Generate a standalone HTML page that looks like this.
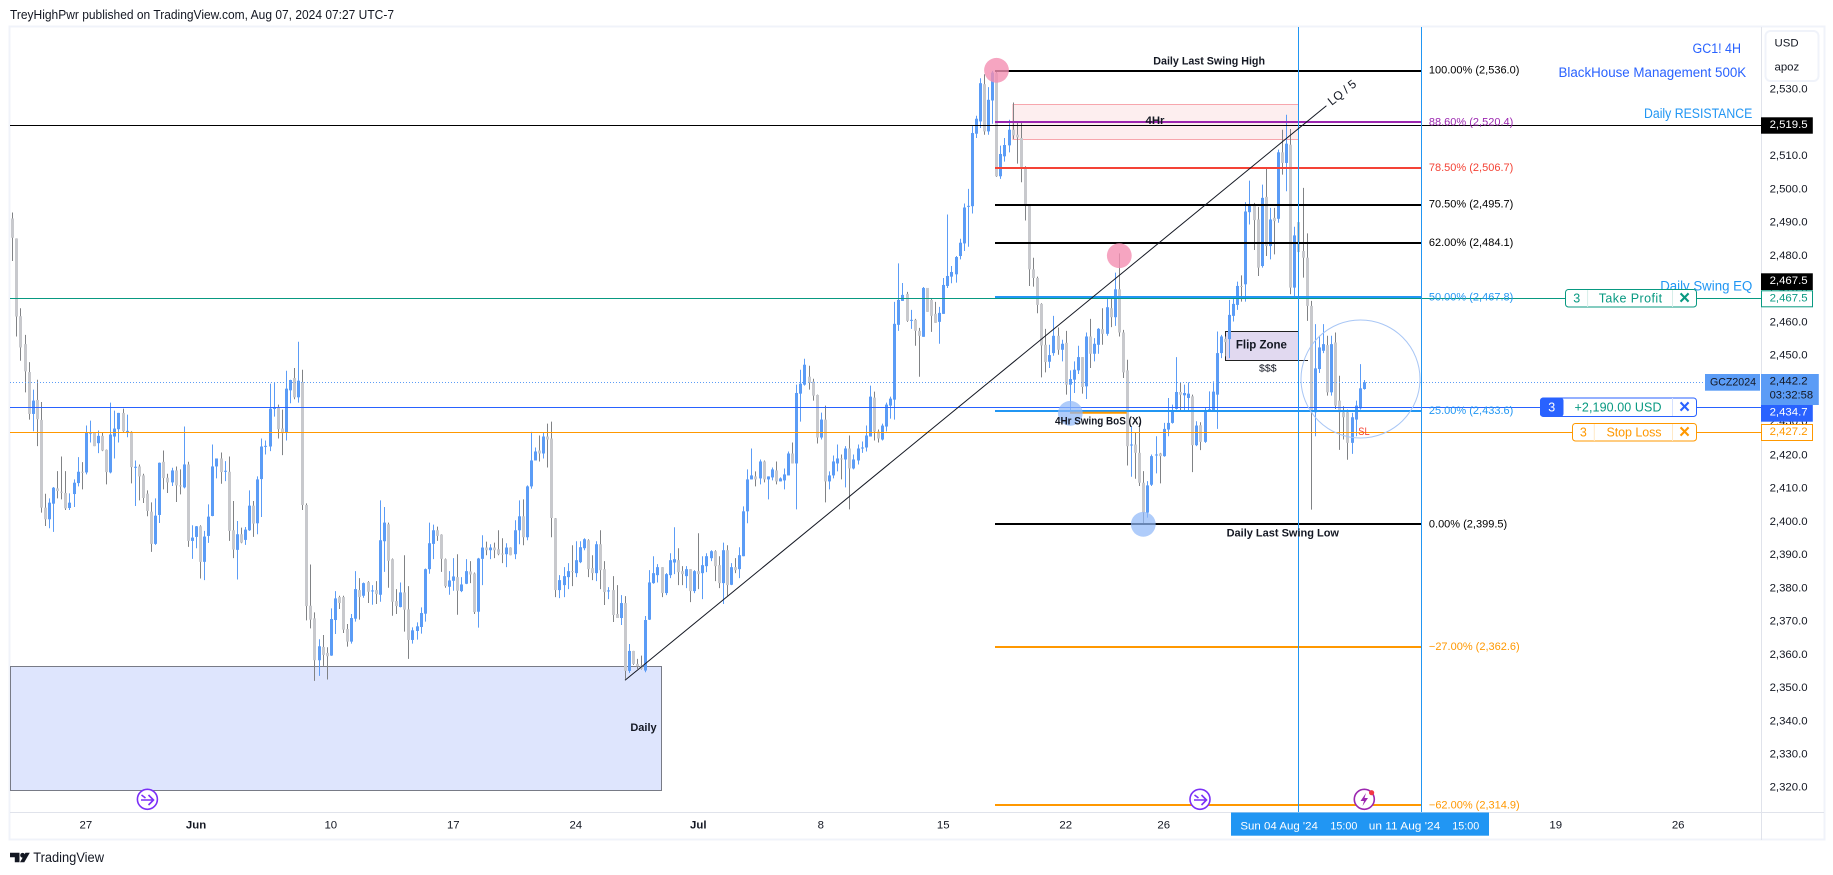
<!DOCTYPE html>
<html lang="en">
<head>
<meta charset="utf-8">
<title>GCZ2024 4H chart</title>
<style>
html,body{margin:0;padding:0;background:#fff;width:1833px;height:875px;overflow:hidden}
svg{display:block}
text{font-family:"Liberation Sans",sans-serif;font-size:11.4px;fill:#131722;dominant-baseline:central}
.b{font-weight:bold}
.c{text-anchor:middle}
</style>
</head>
<body>
<svg id="chart" xmlns="http://www.w3.org/2000/svg" width="1833" height="875" viewBox="0 0 1833 875">
  <text x="10" y="15" textLength="384" lengthAdjust="spacingAndGlyphs" style="font-size:12.5px">TreyHighPwr published on TradingView.com, Aug 07, 2024 07:27 UTC-7</text>
  <rect x="9.5" y="26.5" width="1815" height="813" fill="#fff" stroke="#f0f3fa" stroke-width="2"/>

  <rect x="10.5" y="666.5" width="651" height="124" fill="#dee5fd" stroke="#787b86" stroke-width="1"/>
  <rect x="1013" y="104.5" width="285.5" height="35" fill="#fdeeef" stroke="#f7a6ad" stroke-width="1"/>
  <rect x="1225.5" y="331.5" width="73" height="29" fill="#e1d9f0" stroke="#222" stroke-width="1"/>
  <line x1="1298" y1="360.5" x2="1308" y2="360.5" stroke="#222"/>

  <g id="candles"></g>

  <g fill="none">
    <line x1="10" y1="125.5" x2="1761" y2="125.5" stroke="#000" stroke-width="1"/>
    <line x1="10" y1="298.5" x2="1761" y2="298.5" stroke="#089981" stroke-width="1"/>
    <line x1="10" y1="382.5" x2="1705" y2="382.5" stroke="#5b9cf6" stroke-width="1" stroke-dasharray="1 2"/>
    <line x1="10" y1="407.5" x2="1761" y2="407.5" stroke="#2962ff" stroke-width="1"/>
    <line x1="10" y1="432.5" x2="1761" y2="432.5" stroke="#ff9800" stroke-width="1"/>
  </g>

  <g id="fib"></g>

  <line x1="1298.5" y1="27" x2="1298.5" y2="812" stroke="#2196f3" stroke-width="1"/>
  <line x1="1421.5" y1="27" x2="1421.5" y2="812" stroke="#2196f3" stroke-width="1"/>
  <line x1="625" y1="680.3" x2="1326.4" y2="105.7" stroke="#131722" stroke-width="1"/>
  <text class="c" transform="translate(1342 92.5) rotate(-38.7)" style="font-size:12px">LQ / 5</text>

  <line x1="1070" y1="412.7" x2="1126.7" y2="412.7" stroke="#ff9800" stroke-width="2"/>
  <circle cx="996.5" cy="70.3" r="12.4" fill="#f48fb1" fill-opacity="0.8"/>
  <circle cx="1119.3" cy="255.7" r="12.4" fill="#f48fb1" fill-opacity="0.8"/>
  <circle cx="1070.3" cy="413.3" r="12.4" fill="#90b8f8" fill-opacity="0.72"/>
  <circle cx="1143.3" cy="524.3" r="12.4" fill="#90b8f8" fill-opacity="0.72"/>
  <ellipse cx="1360.5" cy="379" rx="59.5" ry="59" fill="none" stroke="#a8c6f5" stroke-width="1"/>

  <text x="1153.3" y="61.3" textLength="111.7" lengthAdjust="spacingAndGlyphs" class="b" style="font-size:11px">Daily Last Swing High</text>
  <text x="1155" y="121" class="b c">4Hr</text>
  <text x="1055" y="421.7" textLength="86.7" lengthAdjust="spacingAndGlyphs" class="b" style="font-size:11px">4Hr Swing BoS (X)</text>
  <text x="1226.6" y="533.3" textLength="112.4" lengthAdjust="spacingAndGlyphs" class="b" style="font-size:11px">Daily Last Swing Low</text>
  <text x="643.5" y="728" class="b c" style="font-size:11px">Daily</text>
  <text x="1261.4" y="345.5" class="b c" style="font-size:11.5px">Flip Zone</text>
  <text x="1267.8" y="368.7" class="c" style="font-size:10.5px">$$$</text>
  <text x="1358.3" y="432" textLength="11.3" lengthAdjust="spacingAndGlyphs" style="fill:#f44336;font-size:11px">SL</text>

  <text x="1692.5" y="48.3" textLength="48.5" lengthAdjust="spacingAndGlyphs" style="fill:#2962ff;font-size:13.5px">GC1! 4H</text>
  <text x="1558.5" y="72.3" textLength="187.7" lengthAdjust="spacingAndGlyphs" style="fill:#2962ff;font-size:13.5px">BlackHouse Management 500K</text>
  <text x="1644" y="113.3" textLength="108.3" lengthAdjust="spacingAndGlyphs" style="fill:#2196f3;font-size:13.5px">Daily RESISTANCE</text>
  <text x="1660.2" y="286" textLength="92.1" lengthAdjust="spacingAndGlyphs" style="fill:#2196f3;font-size:13.5px">Daily Swing EQ</text>

  <g fill="none" stroke="#7b2ff7" stroke-width="1.6">
    <circle cx="147.4" cy="799.3" r="10" fill="#fff"/>
    <path d="M141 800h12M148.500 795l5 5-5 5M141.500 795l4 3"/>
  </g>
  <g fill="none" stroke="#7b2ff7" stroke-width="1.6">
    <circle cx="1200" cy="799.3" r="10" fill="#fff"/>
    <path d="M1194 800h12M1201.500 795l5 5-5 5M1194.500 795l4 3"/>
  </g>
  <g>
    <circle cx="1364.300" cy="799.3" r="10" fill="#fff" stroke="#9c27b0" stroke-width="1.6"/>
    <polygon points="1366,793 1360.500,801 1364,801 1362.500,806 1368,798 1364.500,798" fill="#9c27b0"/>
    <circle cx="1371.6" cy="792.7" r="2.6" fill="#f23645"/>
  </g>

  <line x1="10" y1="812.5" x2="1824" y2="812.5" stroke="#e0e3eb" stroke-width="1"/>
  <g id="xticks"></g>
  <rect x="1231" y="812.500" width="258" height="23.2" fill="#2196f3"/>
  <text x="1240.4" y="826.7" textLength="77.5" lengthAdjust="spacingAndGlyphs" style="fill:#fff">Sun 04 Aug '24</text>
  <text x="1330.4" y="826.7" textLength="27" lengthAdjust="spacingAndGlyphs" style="fill:#fff">15:00</text>
  <text x="1368.8" y="826.7" textLength="71.4" lengthAdjust="spacingAndGlyphs" style="fill:#fff">un 11 Aug '24</text>
  <text x="1452.3" y="826.7" textLength="27" lengthAdjust="spacingAndGlyphs" style="fill:#fff">15:00</text>

  <line x1="1761.500" y1="27" x2="1761.500" y2="840" stroke="#e0e3eb" stroke-width="1"/>
  <g id="yticks"></g>

  <g>
    <rect x="1765.500" y="31" width="53" height="50" rx="5" fill="#fff" stroke="#f0f3fa" stroke-width="2"/>
    <text x="1774.5" y="43.7">USD</text>
    <text x="1774.5" y="67.7">apoz</text>
  </g>

  <g>
    <rect x="1761" y="117.3" width="51.8" height="16.4" fill="#000"/>
    <text x="1769.600" y="125" style="fill:#fff">2,519.5</text>
  </g>
  <g>
    <rect x="1761" y="273.3" width="51.8" height="16.7" fill="#000"/>
    <text x="1769.600" y="281" style="fill:#fff">2,467.5</text>
  </g>
  <g>
    <rect x="1761.500" y="290.8" width="51" height="16" fill="#fff" stroke="#089981"/>
    <text x="1769.600" y="298.300" style="fill:#089981">2,467.5</text>
  </g>
  <g>
    <rect x="1761" y="405" width="51.8" height="16.7" fill="#2962ff"/>
    <text x="1769.600" y="412.300" style="fill:#fff">2,434.7</text>
  </g>
  <g>
    <rect x="1761" y="374" width="57.800" height="31" fill="#5b9cf6"/>
    <text x="1769.600" y="381.7">2,442.2</text>
    <text x="1769.600" y="395.7" textLength="43.500" lengthAdjust="spacingAndGlyphs">03:32:58</text>
  </g>
  <g>
    <rect x="1761.500" y="424.500" width="51" height="16" fill="#fff" stroke="#ff9800"/>
    <text x="1769.600" y="432" style="fill:#ff9800">2,427.2</text>
  </g>
  <g>
    <rect x="1705" y="374" width="55" height="16.7" fill="#5b9cf6"/>
    <text x="1710" y="382.7" textLength="46" lengthAdjust="spacingAndGlyphs">GCZ2024</text>
  </g>

  <g>
    <rect x="1565.500" y="289.500" width="131" height="17.500" rx="3" fill="#fff" stroke="#089981"/>
    <line x1="1587.600" y1="290" x2="1587.600" y2="307" stroke="#d6eee9"/>
    <line x1="1672.500" y1="290" x2="1672.500" y2="307" stroke="#d6eee9"/>
    <text x="1576.700" y="298.300" class="c" style="fill:#089981;font-size:12.5px">3</text>
    <text x="1598.700" y="298.300" textLength="63.400" lengthAdjust="spacing" style="fill:#089981;font-size:12.5px">Take Profit</text>
    <text x="1684.500" y="298.300" class="c b" style="fill:#089981;font-size:19px">×</text>
  </g>
  <g>
    <rect x="1540.500" y="398" width="156" height="18.500" rx="3" fill="#fff" stroke="#2962ff"/>
    <rect x="1540" y="397.600" width="23.500" height="19.200" rx="3" fill="#2962ff"/>
    <line x1="1672.500" y1="398" x2="1672.500" y2="416" stroke="#d4e0ff"/>
    <text x="1551.700" y="407.300" class="c" style="fill:#fff;font-size:12.5px">3</text>
    <text x="1574.500" y="407.300" textLength="87" lengthAdjust="spacing" style="fill:#089981;font-size:12.5px">+2,190.00 USD</text>
    <text x="1684.500" y="407.300" class="c b" style="fill:#2962ff;font-size:19px">×</text>
  </g>
  <g>
    <rect x="1572.500" y="423.500" width="124" height="17.500" rx="3" fill="#fff" stroke="#ff9800"/>
    <line x1="1594.300" y1="424" x2="1594.300" y2="441" stroke="#ffe9c7"/>
    <line x1="1672.500" y1="424" x2="1672.500" y2="441" stroke="#ffe9c7"/>
    <text x="1583.300" y="432.300" class="c" style="fill:#ff9800;font-size:12.5px">3</text>
    <text x="1606.500" y="432.300" textLength="55" lengthAdjust="spacing" style="fill:#ff9800;font-size:12.5px">Stop Loss</text>
    <text x="1684.500" y="432.300" class="c b" style="fill:#ff9800;font-size:19px">×</text>
  </g>

  <g>
    <path d="M10 852.700h9.500v9.600h-4.700v-5h-4.800z" fill="#131722"/>
    <circle cx="22.600" cy="855.300" r="2.400" fill="#131722"/>
    <polygon points="20,862.300 25.500,852.700 29.800,852.700 24.300,862.300" fill="#131722"/>
    <text x="33.200" y="857.700" textLength="70.800" lengthAdjust="spacingAndGlyphs" style="font-size:13.500px">TradingView</text>
  </g>
</svg>
<script>
const opens = [
2491.5,2485.5,2462.1,2453.7,2445.3,2432.7,2436.9,2430.9,2404.5,2401,
2405.7,2410.3,2409.3,2408.9,2404.4,2408.6,2411.9,2415.3,2415.1,2426.8,
2427.1,2423.9,2426.1,2421.9,2415.1,2425.9,2428.1,2433,2427.3,2427.3,
2416.6,2416.9,2414.2,2408.7,2403.3,2393.6,2402.3,2418.3,2413.5,2412.1,
2415.7,2411.2,2410.6,2417.5,2394.5,2395.7,2398.9,2388.2,2396,2402,
2416.9,2419.3,2415.4,2415.3,2397.7,2391.8,2396.5,2394.8,2397.7,2405.1,
2399.8,2413.1,2422.9,2422.9,2434.3,2434.8,2428.3,2427,2439.8,2443.5,
2437.7,2442.3,2405.3,2375,2371.2,2358.6,2362.6,2360.8,2360,2370.7,
2377.6,2377.6,2368,2364.2,2371.1,2379.7,2378,2382.1,2379.4,2379.7,
2378.3,2394.4,2399.5,2389,2376.4,2374.6,2379,2373.9,2364.7,2367.4,
2368.6,2372.6,2386,2393.6,2397.7,2396.4,2389,2380.7,2382.5,2383.6,
2379.4,2381.6,2385.3,2384.7,2373.2,2389.1,2392.5,2391.7,2392.5,2392,
2390.7,2390.5,2392.5,2390.5,2397.7,2401.9,2395.6,2410.9,2418.7,2421.7,
2420.8,2425.9,2425.3,2401.3,2379.7,2381.2,2383.6,2385.4,2384.8,2388.1,
2392.3,2394.7,2386.3,2384.8,2393.5,2386,2379.4,2379.7,2372.5,2371.3,
2375.8,2355.4,2361.4,2357.5,2357,2355.5,2370.8,2381.8,2384.2,2386.6,
2378.8,2384.2,2388,2388.7,2385.4,2383.9,2386,2379.4,2385.4,2384.8,
2386.9,2389.3,2391.4,2387.2,2381.8,2391.7,2381.3,2386.6,2386,2389.9,
2403.4,2413,2413.9,2413.3,2418.4,2413,2413.6,2415.7,2412.4,2412.7,
2414.2,2420.8,2417.8,2438.8,2441.5,2443.9,2442.4,2438.4,2425.6,2431,
2412.4,2414.2,2417.8,2419.3,2419,2422.3,2416.3,2418.7,2422.3,2422.6,
2425.9,2437.6,2427.4,2425,2428.9,2435.2,2437,2459.5,2466.7,2468.8,
2460.7,2461,2457.7,2455.9,2470.6,2467,2462.8,2460.4,2462.8,2471.2,
2474,2474.7,2480.2,2484,2495,2495.2,2517,2520.7,2531.9,2517.7,
2527,2535.2,2504.2,2510.2,2513.5,2518.2,2516.7,2515.7,2506.7,2495.5,
2476.2,2473.6,2465.8,2453.5,2448.4,2451,2456.2,2452,2454.1,2441.5,
2443,2445.8,2449.8,2441,2456,2450.8,2453.5,2458.2,2456.8,2464.5,
2461.8,2470.2,2457.2,2445.8,2423.3,2423.5,2421,2412,2403,2411.4,
2420.2,2420.8,2420,2428,2430,2434.2,2439.3,2438.3,2437.5,2438,
2423.3,2429.3,2424.3,2434,2433.8,2438.5,2451,2455.3,2455.2,2462.2,
2465.5,2471.2,2471.7,2493.4,2495.4,2491.2,2477.2,2498,2483.2,2491.7,
2491.4,2511.4,2508.2,2513.7,2470.7,2490.4,2481.7,2479.7,2465.2,2433.2,
2446.2,2451.7,2453.4,2439.2,2454.2,2436.7,2433.2,2433.2,2424,2431,2434.4,2440.2];
const highs = [
2493.3,2485.5,2464.5,2456.5,2448.3,2440,2443,2436.3,2408.7,2407.3,
2410.7,2415.5,2419.9,2415.5,2408.8,2413,2419.7,2418.2,2429.2,2430.7,
2427.1,2427.7,2427.1,2422,2436.1,2433.7,2433,2434.3,2432.5,2427.5,
2418.7,2417.5,2414.7,2409.7,2406.1,2407.3,2418.1,2421.7,2414.7,2416.5,
2416.9,2416,2428.9,2418.3,2399.2,2399,2399.2,2397.5,2405.5,2423.5,
2419.3,2421.1,2418.5,2419.9,2406.5,2400.5,2398.5,2398.7,2409.7,2406.5,
2413.9,2425.3,2424.7,2441.8,2442.3,2435.5,2434,2445.7,2443,2446.5,
2454.4,2446,2405.8,2387.4,2373,2364.9,2366.2,2362.5,2374.2,2379.4,
2378,2378,2369.5,2372.5,2385.4,2383.3,2382,2382.4,2381.2,2382.4,
2406.7,2404.7,2400,2389.2,2380,2382,2390.2,2380.9,2368.5,2370,
2374.5,2386.2,2400,2399.4,2398.8,2396.5,2389.2,2385.4,2389.3,2390.5,
2383.6,2389,2388.4,2385,2389.4,2396.2,2394.3,2393.5,2394,2397.7,
2395.3,2393.8,2392.6,2400.7,2406.7,2407,2411.2,2427.3,2422.6,2426.2,
2427.2,2429.8,2430.4,2401.4,2384.2,2386.6,2387.8,2393.2,2394.4,2394.4,
2395.3,2395,2390.2,2394.4,2397.7,2388.4,2380.6,2383.9,2381.2,2378.2,
2377.9,2363.5,2361.4,2359,2360,2371.9,2385.7,2389.9,2387.5,2386.6,
2384.8,2390.8,2398.6,2392.3,2386.9,2386.9,2386,2385.7,2396.8,2389.9,
2390.8,2391.7,2391.7,2389.9,2394,2393.2,2387.8,2389.3,2392.6,2404.9,
2416,2422.3,2415.4,2419,2418.7,2413.9,2416.6,2418.4,2413.6,2416.3,
2421.4,2424.1,2441.5,2446,2449.3,2447.2,2443.3,2438.5,2433.1,2435.2,
2415.4,2420.2,2423.5,2420.5,2423,2426.2,2420.5,2423.5,2424.4,2429.2,
2441.2,2439.4,2428,2429.8,2436.1,2437.9,2466.4,2478,2472.1,2469.4,
2464,2461.3,2458.6,2470.9,2470.6,2467.3,2466.4,2464.9,2473.6,2492.7,
2477.2,2480.2,2485.4,2496,2500.4,2519.4,2522.4,2533.7,2534.9,2531,
2535.9,2536,2513.4,2515.7,2521.2,2526.4,2520.4,2520.7,2507.2,2495.5,
2479.7,2474,2466,2458.3,2453.5,2462.2,2458.7,2455,2457.7,2445.8,
2448.5,2453.2,2449.8,2457.2,2461.3,2455.5,2458.5,2464.5,2467.5,2468,
2475.2,2481,2458,2449,2429,2427.2,2430,2415.5,2412.5,2420.5,
2426,2421,2430,2437.5,2435.5,2449.8,2442.2,2441.5,2442.2,2438.5,
2430.5,2430.2,2434.5,2439.5,2442.5,2457.5,2456.5,2456,2467,2468,
2472.5,2474.4,2496.4,2502.9,2496.2,2495,2501.7,2506.8,2494.7,2494.7,
2512.2,2518.2,2522.7,2518.4,2489,2492,2500.7,2487,2466.7,2459.7,
2456.2,2459.7,2456.2,2456.2,2457.2,2444.2,2435,2434,2433,2436.7,2447.7,2442.9];
const lows = [
2478.7,2456,2448.7,2439.2,2431,2427.5,2423,2403,2399,2398.3,
2397.2,2407.3,2407,2403.8,2403.8,2404.7,2410.9,2410,2414.5,2424.1,
2423,2420.9,2421.5,2411.5,2414.8,2419.3,2424.1,2427.3,2425.7,2411.8,
2405,2406.7,2405.9,2401.9,2391.2,2393.3,2399.9,2410,2408.9,2411,
2406.2,2408.5,2410.3,2392.7,2389.1,2392.3,2383.2,2382.7,2393.9,2401.9,
2413.3,2411.7,2412.5,2394.5,2389.3,2382.9,2393.8,2393.3,2397.5,2395.7,
2396.5,2401.7,2420.5,2421.5,2431.9,2425.3,2420.3,2424.7,2435.9,2437.1,
2436.1,2403.8,2370.6,2368.2,2352.4,2353.9,2356.9,2352.8,2359.9,2366.5,
2374,2366.8,2362.7,2363.6,2370.2,2370.8,2377.4,2375.8,2375.3,2375.5,
2376.2,2385.2,2380.4,2372,2372.5,2374.5,2367.2,2359,2363.6,2364.8,
2366.6,2370.2,2384.6,2389,2394.5,2385.2,2380.4,2378.3,2379.5,2372.3,
2379.1,2381.5,2381.8,2372.5,2368.4,2381.2,2390.2,2389,2389.3,2390.2,
2387.8,2386.6,2390.2,2389,2393.5,2393.2,2394.7,2410.2,2418.7,2418.4,
2419.3,2416.6,2395.6,2377.6,2377.3,2377.6,2380,2380.9,2383.6,2387.8,
2391.7,2383.6,2382.7,2382.4,2380,2375.2,2377,2370.1,2371.3,2369.2,
2353,2354.8,2357.2,2356,2355.8,2355,2370.7,2381.6,2382,2377.6,
2378.2,2383.3,2384.5,2381.2,2381.2,2380.3,2376.1,2378.8,2380,2377,
2385.1,2388.4,2382.4,2380.3,2375.5,2378,2381.2,2384.8,2383.3,2389.9,
2399.8,2413,2410.9,2411.5,2412.1,2407,2412.7,2411.5,2412.4,2410,
2414.2,2417.8,2404,2430.4,2441.2,2440,2436.7,2423.8,2425,2406.1,
2410,2413.3,2415.4,2413,2410.6,2404,2416,2417.5,2421,2421.4,
2425.9,2424.7,2424.1,2424.7,2427.4,2431.3,2431,2457.7,2466.7,2460.4,
2458.3,2453.2,2443.9,2455.9,2463.4,2457.4,2460.1,2453.8,2462.8,2470.6,
2472,2472.2,2479.2,2481.7,2483,2493,2515.7,2518.7,2516.7,2516.7,
2520,2504,2503.4,2508.6,2511.4,2515.4,2508,2502.4,2490.9,2471.2,
2471,2463,2443.7,2445.2,2446.5,2450.2,2450.5,2448.5,2438.5,2433.5,
2439,2444.7,2438.8,2437.2,2446.5,2448.5,2450.8,2453.5,2456.2,2458.8,
2459.2,2456,2443.5,2417.2,2413.8,2413.2,2411,2399.8,2401.5,2411,
2414.8,2411.8,2419.8,2426,2429.8,2434,2433.8,2433.5,2433.5,2415.2,
2423,2421.8,2424,2433.8,2433.5,2428.2,2449.5,2450,2449.5,2460.5,
2464,2466.5,2466.5,2489.7,2482,2474.2,2476.7,2480.2,2479.2,2480.7,
2490.2,2504.7,2499.7,2468.7,2468,2477,2473.7,2460.7,2403.9,2426,
2445,2451,2438.2,2438.2,2434.2,2421.9,2425,2418.9,2420.7,2426,2434,2440];
const closes = [
2485.7,2462,2452.7,2445.5,2432.7,2436.7,2431.1,2404.5,2401,2406,
2410.5,2409.5,2409.1,2404.3,2406,2412,2415.3,2415.1,2427.1,2427.1,
2423,2426.1,2421.7,2415.2,2426.5,2428.3,2433,2427.5,2427.6,2416.7,
2416.8,2413.9,2407.4,2403.5,2393.6,2402.1,2418,2413.4,2412.1,2415.7,
2411.2,2410.9,2417.5,2394.5,2395.5,2398.9,2388.2,2395.8,2401.8,2416.9,
2419.3,2415.2,2415.6,2397.5,2391.9,2396.5,2394,2397.9,2405.1,2399.7,
2413,2422.9,2423.1,2434.3,2434.5,2428.1,2426.9,2440.3,2442.9,2437.7,
2442.7,2405.3,2374.9,2370.8,2358.6,2362.8,2360.2,2359.8,2371,2377.2,
2375.8,2367.8,2364.2,2371.3,2380,2377.6,2381.8,2379.2,2379.6,2378.5,
2394.7,2400,2388.5,2376.2,2374.9,2379,2373.8,2364.7,2367.6,2368.8,
2372.8,2386,2393.8,2397.7,2396,2389.1,2380.9,2382.6,2383.8,2379.5,
2381.4,2385.4,2384.4,2373.1,2389.2,2392.5,2391.7,2392.5,2391.7,2390.5,
2390.5,2392.5,2390.2,2397.7,2401.9,2395.6,2410.9,2418.7,2421.4,2420.8,
2425.9,2425,2401.4,2379.7,2382.7,2383.9,2385.4,2385.1,2388.7,2392.6,
2395,2386,2384.8,2393.5,2385.7,2379.1,2379.6,2372.2,2371.3,2375.8,
2355.4,2361.4,2357.5,2356.8,2356,2370.7,2382,2384.8,2386.6,2378.8,
2384.5,2388.7,2389,2385.1,2384.5,2386,2379.4,2385.4,2384.5,2387.2,
2389.9,2391.4,2386.9,2381.8,2391.7,2381.2,2386.6,2385.7,2390.2,2403.4,
2413,2414.2,2413,2418.4,2413,2413.9,2416,2412.4,2413.3,2414.5,
2420.8,2417.8,2439,2441.8,2447.5,2442.1,2438.2,2425.6,2431,2412.4,
2414.2,2418.4,2419.3,2419,2422.3,2416.3,2419,2422.3,2422.6,2426.2,
2437.9,2427.4,2425.3,2429.2,2435.5,2437.3,2459.8,2467,2468.5,2460.7,
2461,2457.7,2456.2,2470.6,2463.4,2462.2,2460.1,2463.1,2471.5,2474.2,
2475.4,2479.9,2484.2,2494.8,2495.3,2517.2,2521.5,2532.2,2517.7,2527.2,
2535.4,2504.2,2510.9,2513.6,2518.2,2516.5,2515.9,2507,2495.5,2476.2,
2473.6,2465.5,2453.3,2448.3,2450.4,2456.2,2452,2453.8,2441.5,2443.2,
2446,2449.8,2440.8,2456,2450.8,2453.8,2458.3,2456.8,2464.8,2461.8,
2470.2,2457.2,2445.2,2423,2423.5,2421,2412,2403,2411.2,2420,
2420.5,2420,2428.2,2430,2433.5,2439.3,2438.5,2439,2438.8,2423.3,
2429.2,2424.3,2433.8,2434.1,2439.4,2451,2456,2454.3,2462.5,2465.8,
2471.2,2471,2493.6,2495.7,2491,2476.7,2497.7,2483.2,2491.2,2490.7,
2511.4,2508.2,2514,2470.7,2486.4,2481.4,2479.7,2465.2,2433.2,2446.4,
2452.7,2453.7,2439.2,2453.7,2435.2,2433.2,2431.7,2424,2431.7,2435.2,2440.4,2442.2];

const priceTicks = [2530,2520,2510,2500,2490,2480,2470,2460,2450,2440,2430,2420,2410,2400,2390,2380,2370,2360,2350,2340,2330,2320];
const timeTickBars = [18,45,78,108,138,168,198,228,258,282,378,408];
const timeTickLabels = ['27','Jun','10','17','24','Jul','8','15','22','26','19','26'];
const timeTickBold = [false,true,false,false,false,true,false,false,false,false,false,false];
const fibPercents = [100,88.6,78.5,70.5,62,50,25,0,-27,-62];
const fibPrices = [2536.0,2520.4,2506.7,2495.7,2484.1,2467.8,2433.6,2399.5,2362.6,2314.9];
const fibColors = ['#000000','#9c27b0','#f44336','#000000','#000000','#2196f3','#2196f3','#000000','#ff9800','#ff9800'];

const NS = 'http://www.w3.org/2000/svg';
function xScale(bar){ return 12.33 + 4.083 * bar; }
function yScale(price){ return 90.5 + (2530 - price) * 3.324; }
function fmtPrice(p){
  const s = p.toFixed(1);
  return s.slice(0, s.length - 5) + ',' + s.slice(s.length - 5);
}
function make(tag, attrs, parent){
  const el = document.createElementNS(NS, tag);
  for (const k in attrs) el.setAttribute(k, attrs[k]);
  parent.appendChild(el);
  return el;
}

const candleLayer = document.getElementById('candles');
closes.forEach(function(close, i){
  const up = close >= opens[i];
  const cx = Math.round(xScale(i));
  const g = make('g', {}, candleLayer);
  
  
  const wick = make('line', {
    x1: cx + 0.5, x2: cx + 0.5,
    y1: yScale(highs[i]), y2: yScale(lows[i]),
    stroke: up ? '#5b9cf6' : '#808285', 'stroke-width': 1
  }, g);
  
  
  const top = yScale(Math.max(opens[i], close));
  const bottom = yScale(Math.min(opens[i], close));
  const body = make('rect', {
    x: cx - 1, y: top, width: 3, height: Math.max(1, bottom - top),
    fill: up ? '#5b9cf6' : '#c8c9cd'
  }, g);
  
  
});

const fibLayer = document.getElementById('fib');
fibPrices.forEach(function(price, i){
  const y = yScale(price);
  const lineY = Math.round(y);
  const line = make('line', { x1: 995, x2: 1421.5, y1: lineY, y2: lineY, stroke: fibColors[i], 'stroke-width': 2 }, fibLayer);
  
  
  const pct = fibPercents[i];
  const label = make('text', { x: 1428.9, y: y, style: 'font-size:11px;fill:' + fibColors[i] }, fibLayer);
  
  
  label.textContent = (pct < 0 ? '\u2212' + Math.abs(pct).toFixed(2) : pct.toFixed(2)) + '% (' + fmtPrice(price) + ')';
});

const yLayer = document.getElementById('yticks');
priceTicks.forEach(function(price){
  const t = make('text', { x: 1769.6, y: yScale(price) - 0.8 }, yLayer);
  
  
  t.textContent = fmtPrice(price);
});

const xLayer = document.getElementById('xticks');
timeTickBars.forEach(function(bar, i){
  const t = make('text', { x: xScale(bar), y: 825.7, 'class': timeTickBold[i] ? 'b c' : 'c' }, xLayer);
  
  
  t.textContent = timeTickLabels[i];
});
</script>
</body>
</html>
